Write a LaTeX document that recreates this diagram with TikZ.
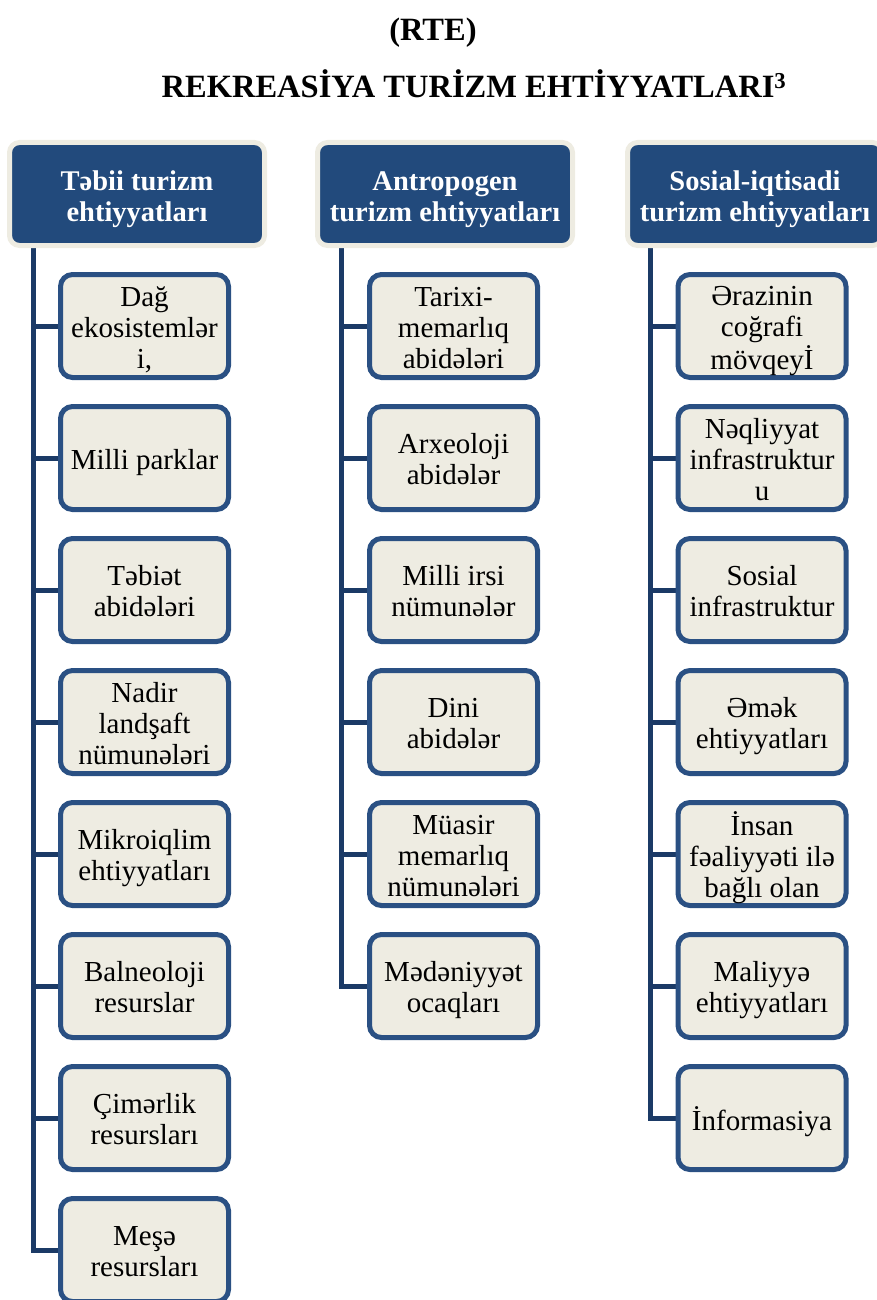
\documentclass[tikz,border=0pt]{standalone}
\usepackage{fontspec}
\setmainfont{Liberation Serif}
\usetikzlibrary{backgrounds,calc}
\definecolor{hdrblue}{HTML}{224A7C}
\definecolor{beige}{HTML}{EEECE2}
\definecolor{boxline}{HTML}{2A5083}
\definecolor{connline}{HTML}{1B3A66}
\newcommand\itx[1]{\raisebox{-5pt}[\height][\depth]{\begin{tabular}{@{}c@{}}#1\end{tabular}}}
\newcommand\hdx[1]{\raisebox{-6pt}[\height][\depth]{\begin{tabular}{@{}c@{}}#1\end{tabular}}}
\begin{document}
\begin{tikzpicture}[x=1pt,y=-1pt,
  hdr/.style={rectangle, rounded corners=10pt, fill=hdrblue, draw=beige, line width=5pt,
    minimum width=255pt, minimum height=103pt, inner sep=0pt, align=center,
    text=white, font=\bfseries\fontsize{28.5}{31}\selectfont},
  item/.style={rectangle, rounded corners=12pt, fill=beige, draw=boxline, line width=5pt,
    minimum width=168pt, minimum height=103pt, inner sep=0pt, align=center,
    font=\fontsize{29}{31}\selectfont},
  conn/.style={draw=connline, line width=5pt},
  title/.style={font=\bfseries\fontsize{32.5}{36}\selectfont, inner sep=0pt}]
\useasboundingbox (0,0) rectangle (877,1300);

\node[title] (t1) at (433,33) {(RTE)};
\node[title] (t2) at (474,84) {REKREASİYA TURİZM EHTİYYATLARI\textsuperscript{3}};

\node[hdr] (h1) at (137,194) {\hdx{Təbii turizm\\ehtiyyatları}};
\node[hdr] (h2) at (445,194) {\hdx{Antropogen\\turizm ehtiyyatları}};
\node[hdr] (h3) at (755,194) {\hdx{Sosial-iqtisadi\\turizm ehtiyyatları}};

% column 1
\node[item] (a1) at (144.5,326) {\itx{Dağ\\ekosistemlər\\i,}};
\node[item] (a2) at (144.5,458) {\itx{Milli parklar}};
\node[item] (a3) at (144.5,590) {\itx{Təbiət\\abidələri}};
\node[item] (a4) at (144.5,722) {\itx{Nadir\\landşaft\\nümunələri}};
\node[item] (a5) at (144.5,854) {\itx{Mikroiqlim\\ehtiyyatları}};
\node[item] (a6) at (144.5,986) {\itx{Balneoloji\\resurslar}};
\node[item] (a7) at (144.5,1118) {\itx{Çimərlik\\resursları}};
\node[item] (a8) at (144.5,1250) {\itx{Meşə\\resursları}};

% column 2
\node[item] (b1) at (453.5,326) {\itx{Tarixi-\\memarlıq\\abidələri}};
\node[item] (b2) at (453.5,458) {\itx{Arxeoloji\\abidələr}};
\node[item] (b3) at (453.5,590) {\itx{Milli irsi\\nümunələr}};
\node[item] (b4) at (453.5,722) {\itx{Dini\\abidələr}};
\node[item] (b5) at (453.5,854) {\itx{Müasir\\memarlıq\\nümunələri}};
\node[item] (b6) at (453.5,986) {\itx{Mədəniyyət\\ocaqları}};

% column 3
\node[item] (c1) at (762,326) {\itx{Ərazinin\\coğrafi\\mövqeyİ}};
\node[item] (c2) at (762,458) {\itx{Nəqliyyat\\infrastruktur\\u}};
\node[item] (c3) at (762,590) {\itx{Sosial\\infrastruktur}};
\node[item] (c4) at (762,722) {\itx{Əmək\\ehtiyyatları}};
\node[item] (c5) at (762,854) {\itx{İnsan\\fəaliyyəti ilə\\bağlı olan}};
\node[item] (c6) at (762,986) {\itx{Maliyyə\\ehtiyyatları}};
\node[item] (c7) at (762,1118) {\itx{İnformasiya}};

\coordinate (s1) at ($(h1.south west)+(26,0)$);
\coordinate (s2) at ($(h2.south west)+(26,0)$);
\coordinate (s3) at ($(h3.south west)+(25,0)$);

\begin{scope}[on background layer]
  \draw[conn] (s1) |- (a8.west);
  \foreach \n in {a1,a2,a3,a4,a5,a6,a7} \draw[conn] (\n.west) -- (\n.west -| s1);
  \draw[conn] (s2) |- (b6.west);
  \foreach \n in {b1,b2,b3,b4,b5} \draw[conn] (\n.west) -- (\n.west -| s2);
  \draw[conn] (s3) |- (c7.west);
  \foreach \n in {c1,c2,c3,c4,c5,c6} \draw[conn] (\n.west) -- (\n.west -| s3);
\end{scope}
\end{tikzpicture}
\end{document}
